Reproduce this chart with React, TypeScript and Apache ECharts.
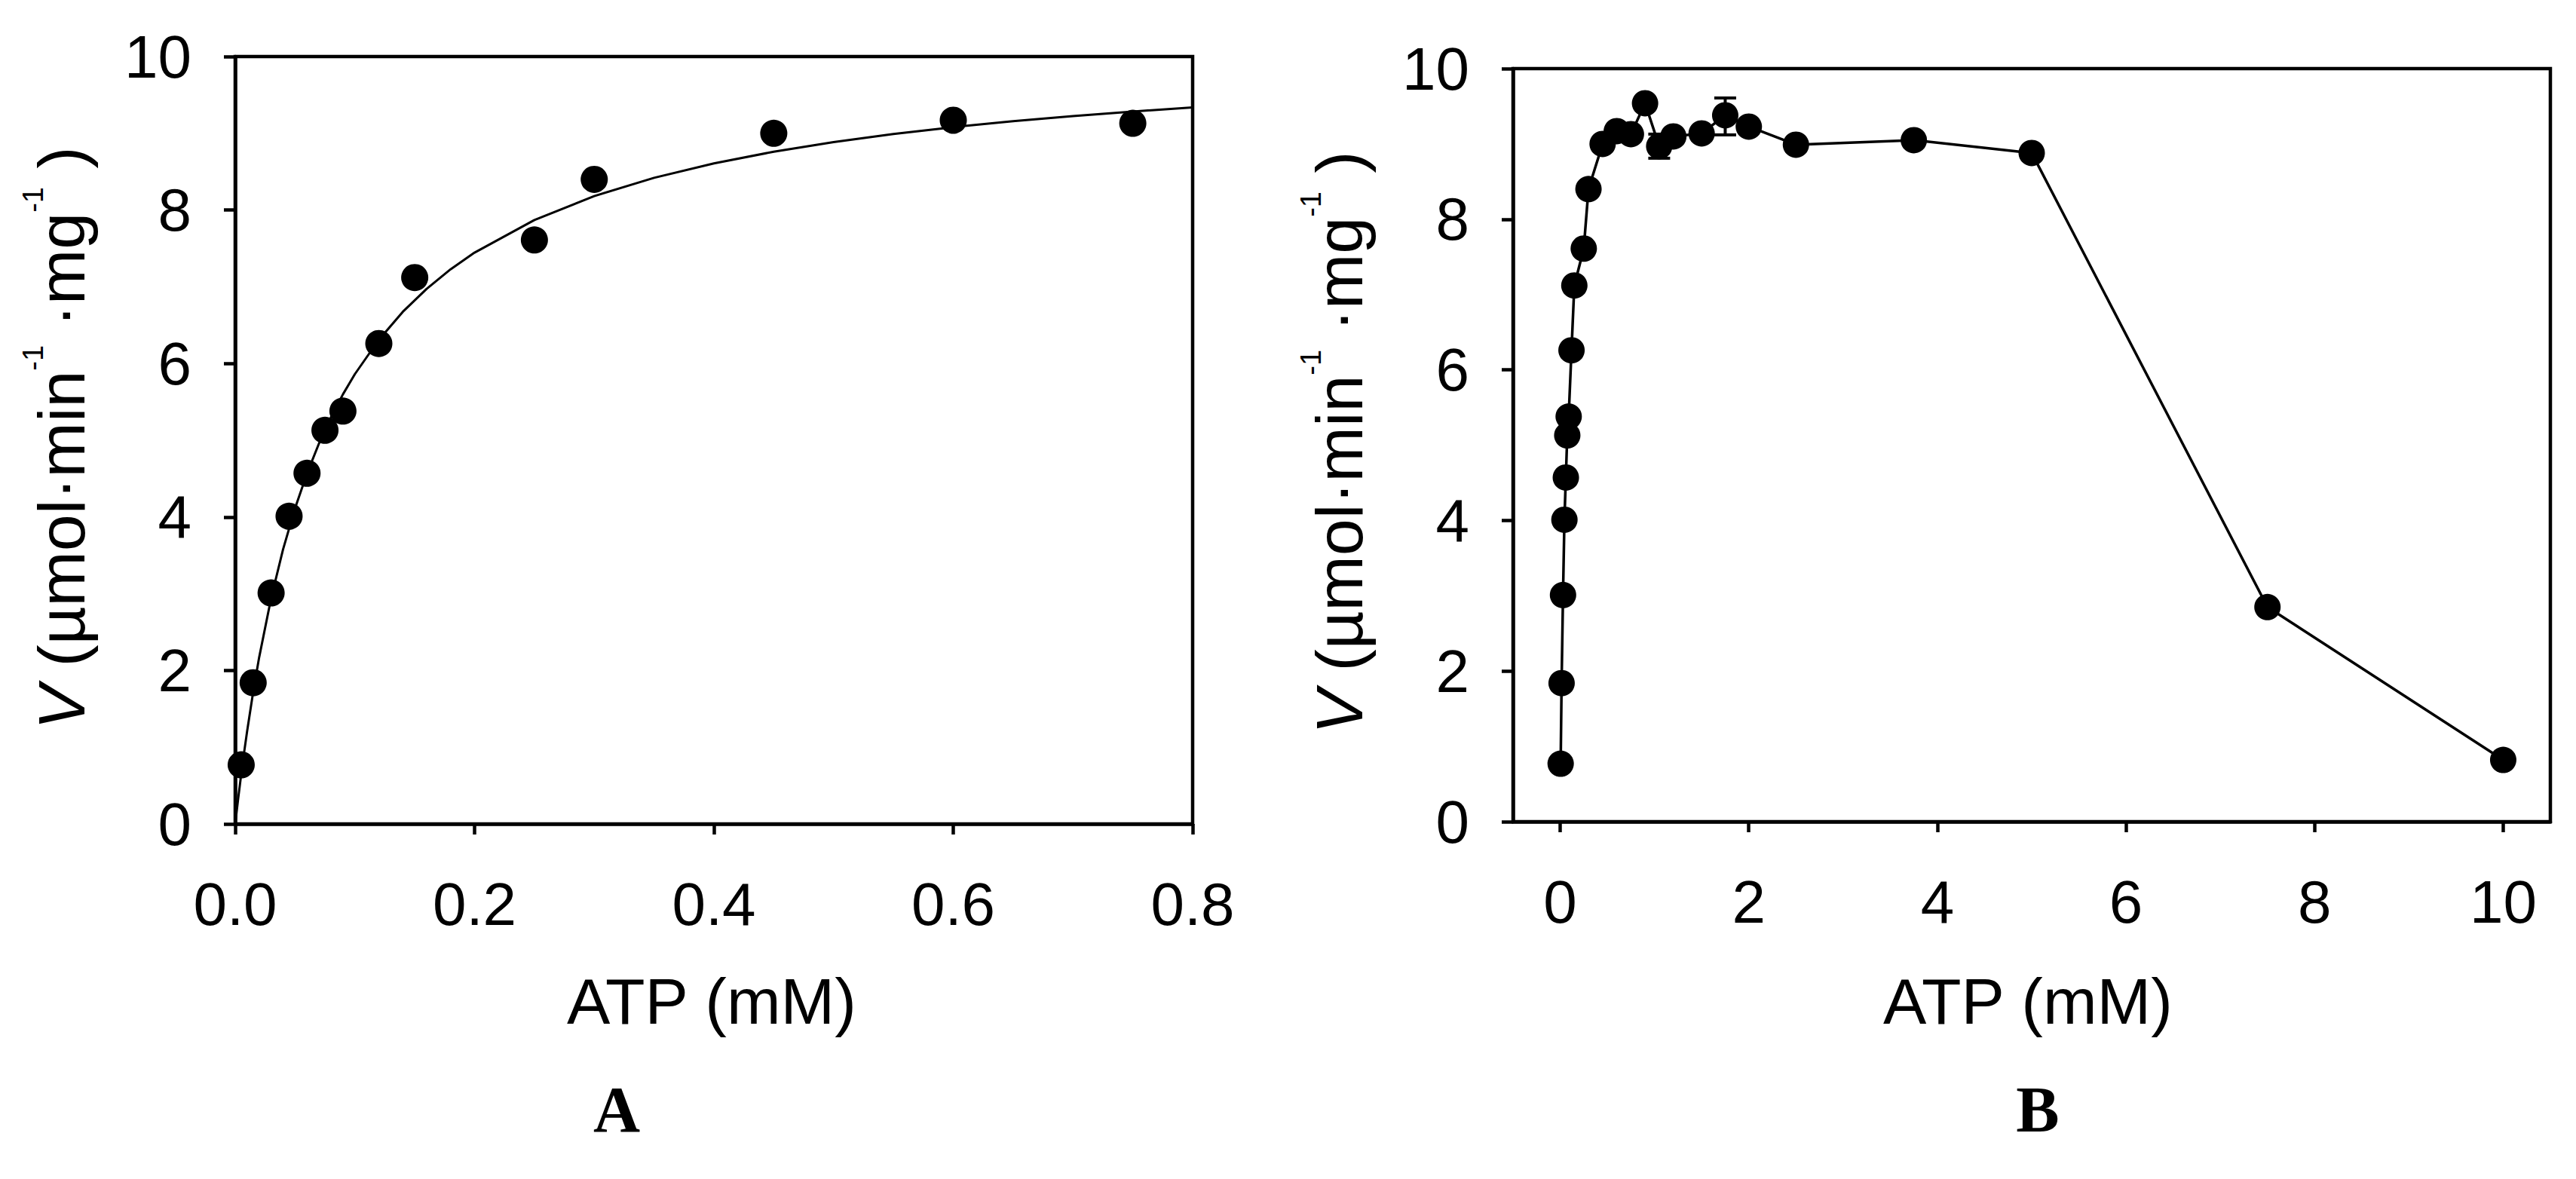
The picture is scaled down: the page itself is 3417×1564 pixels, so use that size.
import React, { useEffect, useRef } from "react";
import * as echarts from "echarts";

// ---- Data ----
// Panel A: measured points (ATP mM, V)
const atpA = [0.005, 0.015, 0.03, 0.045, 0.06, 0.075, 0.09, 0.12, 0.15, 0.25, 0.3, 0.45, 0.6, 0.75];
const rateA = [0.77, 1.84, 3.01, 4.01, 4.57, 5.13, 5.38, 6.26, 7.12, 7.61, 8.4, 9.0, 9.17, 9.13];
// Panel A: fitted curve
const fitAtpA = [0, 0.0025, 0.005, 0.0075, 0.01, 0.015, 0.02, 0.03, 0.04, 0.05, 0.06, 0.07, 0.08, 0.09, 0.1, 0.12, 0.14, 0.16, 0.18, 0.2, 0.25, 0.3, 0.35, 0.4, 0.45, 0.5, 0.55, 0.6, 0.65, 0.7, 0.75, 0.8];
const fitRateA = [0, 0.333, 0.646, 0.939, 1.214, 1.719, 2.17, 2.942, 3.579, 4.113, 4.567, 4.958, 5.299, 5.598, 5.862, 6.309, 6.673, 6.974, 7.228, 7.445, 7.87, 8.182, 8.42, 8.608, 8.76, 8.885, 8.99, 9.08, 9.157, 9.225, 9.284, 9.336];

// Panel B: measured points (ATP mM, V)
const atpB = [0.005, 0.015, 0.03, 0.045, 0.06, 0.075, 0.09, 0.12, 0.15, 0.25, 0.3, 0.45, 0.6, 0.75, 0.9, 1.05, 1.2, 1.5, 1.75, 2.0, 2.5, 3.75, 5.0, 7.5, 10];
const rateB = [0.77, 1.84, 3.01, 4.01, 4.57, 5.13, 5.38, 6.26, 7.12, 7.61, 8.4, 9.0, 9.17, 9.13, 9.54, 8.97, 9.1, 9.14, 9.38, 9.23, 8.99, 9.05, 8.88, 2.85, 0.82];
// Panel B: error bars
const errAtpB = [1.05, 1.75];
const errLowB = [8.81, 9.12];
const errHighB = [9.13, 9.61];

// Tick values
const yTicks = [0, 2, 4, 6, 8, 10];
const xTicksA = [0, 0.2, 0.4, 0.6, 0.8];
const xTicksB = [0, 2, 4, 6, 8, 10];

const xTitle = "ATP (mM)";
const panelLabels = ["A", "B"];

const SANS = "'Liberation Sans', Arial, sans-serif";
const SERIF = "'Liberation Serif', 'Times New Roman', serif";
const LW = 4.5;

function yTitle(x: number, y: number) {
  return {
    type: "text",
    x,
    y,
    rotation: Math.PI / 2,
    style: {
      text: "{i|V} (µmol·min{s|-1} ·mg{s|-1} )",
      fontSize: 88,
      fontFamily: SANS,
      fill: "#000",
      align: "center",
      verticalAlign: "middle",
      lineHeight: 112,
      rich: {
        i: { fontStyle: "italic", fontSize: 88, fontFamily: SANS, lineHeight: 112, fill: "#000" },
        s: { fontSize: 38, fontFamily: SANS, lineHeight: 38, verticalAlign: "top", fill: "#000" },
      },
    },
  };
}

function plainText(text: string, x: number, y: number, font: string, size: number, weight: string) {
  return {
    type: "text",
    x,
    y,
    style: {
      text,
      fontSize: size,
      fontFamily: font,
      fontWeight: weight,
      fill: "#000",
      align: "center",
      verticalAlign: "middle",
    },
  };
}

function xAxisCfg(gridIndex: number, min: number, max: number, ticks: number[], fmt?: (v: number) => string) {
  return {
    type: "value",
    gridIndex,
    min,
    max,
    axisLine: { show: true, onZero: false, lineStyle: { color: "#000", width: LW } },
    axisTick: { show: true, length: 14, customValues: ticks, lineStyle: { color: "#000", width: LW } },
    axisLabel: { color: "#000", fontSize: 80, fontFamily: SANS, margin: 66, customValues: ticks, formatter: fmt },
    splitLine: { show: false },
  };
}

function yAxisCfg(gridIndex: number) {
  return {
    type: "value",
    gridIndex,
    min: 0,
    max: 10,
    interval: 2,
    axisLine: { show: true, onZero: false, lineStyle: { color: "#000", width: LW } },
    axisTick: { show: true, length: 15, customValues: yTicks, lineStyle: { color: "#000", width: LW } },
    axisLabel: { color: "#000", fontSize: 80, fontFamily: SANS, margin: 58, customValues: yTicks },
    splitLine: { show: false },
  };
}

export default function App() {
  const ref = useRef<HTMLDivElement>(null);
  useEffect(() => {
    if (!ref.current) return;
    const chart = echarts.init(ref.current, undefined, { renderer: "svg" });
    const option: any = {
      animation: false,
      backgroundColor: "#fff",
      grid: [
        { left: 312, top: 75, width: 1270, height: 1018, show: true, borderColor: "#000", borderWidth: LW, backgroundColor: "transparent" },
        { left: 2007, top: 91, width: 1376, height: 999, show: true, borderColor: "#000", borderWidth: LW, backgroundColor: "transparent" },
      ],
      xAxis: [
        xAxisCfg(0, 0, 0.8, xTicksA, (v: number) => v.toFixed(1)),
        xAxisCfg(1, -0.5, 10.5, xTicksB),
      ],
      yAxis: [yAxisCfg(0), yAxisCfg(1)],
      series: [
        {
          name: "fitA",
          type: "line",
          xAxisIndex: 0,
          yAxisIndex: 0,
          data: fitAtpA.map((x, i) => [x, fitRateA[i]]),
          showSymbol: false,
          smooth: false,
          lineStyle: { color: "#000", width: 3 },
          z: 2,
        },
        {
          name: "pointsA",
          type: "scatter",
          xAxisIndex: 0,
          yAxisIndex: 0,
          data: atpA.map((x, i) => [x, rateA[i]]),
          symbol: "circle",
          symbolSize: 36,
          itemStyle: { color: "#000", opacity: 1 },
          z: 3,
        },
        {
          name: "errB",
          type: "custom",
          xAxisIndex: 1,
          yAxisIndex: 1,
          data: errAtpB.map((x, i) => [x, errLowB[i], errHighB[i]]),
          encode: { x: 0, y: [1, 2] },
          renderItem: (params: any, api: any) => {
            const x = api.value(0);
            const lo = api.coord([x, api.value(1)]);
            const hi = api.coord([x, api.value(2)]);
            const w = 14.5;
            const st = { stroke: "#000", lineWidth: 4 };
            return {
              type: "group",
              children: [
                { type: "line", shape: { x1: lo[0], y1: lo[1], x2: hi[0], y2: hi[1] }, style: st },
                { type: "line", shape: { x1: lo[0] - w, y1: lo[1], x2: lo[0] + w, y2: lo[1] }, style: st },
                { type: "line", shape: { x1: hi[0] - w, y1: hi[1], x2: hi[0] + w, y2: hi[1] }, style: st },
              ],
            };
          },
          z: 2,
        },
        {
          name: "pointsB",
          type: "line",
          xAxisIndex: 1,
          yAxisIndex: 1,
          data: atpB.map((x, i) => [x, rateB[i]]),
          symbol: "circle",
          symbolSize: 35,
          showAllSymbol: true,
          itemStyle: { color: "#000", opacity: 1 },
          lineStyle: { color: "#000", width: 3.5 },
          z: 3,
        },
      ],
      graphic: [
        yTitle(81, 581),
        yTitle(1776, 587),
        plainText(xTitle, 944, 1328, SANS, 86, "normal"),
        plainText(xTitle, 2690, 1328, SANS, 86, "normal"),
        plainText(panelLabels[0], 818, 1472, SERIF, 86, "bold"),
        plainText(panelLabels[1], 2703, 1472, SERIF, 86, "bold"),
      ],
    };
    chart.setOption(option);
    return () => chart.dispose();
  }, []);
  return (
    <div
      ref={ref}
      style={{ position: "fixed", left: 0, top: 0, width: "3417px", height: "1564px", background: "#fff" }}
    />
  );
}
